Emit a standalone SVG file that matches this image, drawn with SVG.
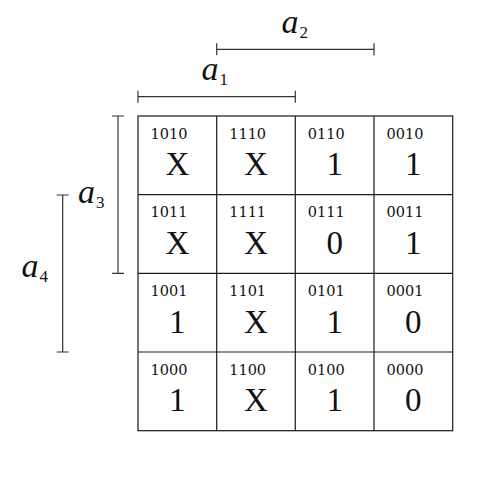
<svg xmlns="http://www.w3.org/2000/svg" width="498" height="486" viewBox="0 0 498 486">
<style>
.grid{stroke:#1a1a1a;stroke-width:1.2;fill:none}
.br{stroke:#333;stroke-width:1.2;fill:none}
.lbl{font-family:"DejaVu Serif",serif;font-size:14.5px;fill:#111}
.val{font-family:"Liberation Serif",serif;font-size:33px;fill:#111;text-anchor:middle}
.var{font-family:"Liberation Serif",serif;font-style:italic;font-size:34px;fill:#111}
.sub{font-style:normal;font-size:17px}
</style>
<rect width="498" height="486" fill="#fff"/>
<g id="connectors">
<path class="br" d="M138 96.7H295.3M138 90.7V102.7M295.3 90.7V102.7"/>
<path class="br" d="M216.7 49.3H374M216.7 43.3V55.3M374 43.3V55.3"/>
<path class="br" d="M118 116V273.3M112 116H124M112 273.3H124"/>
<path class="br" d="M62.7 195V352M56.7 195H68.7M56.7 352H68.7"/>
</g>
<g id="labels">
<text class="var" x="201.5" y="80">a<tspan class="sub" dx="1" dy="5">1</tspan></text>
<text class="var" x="281.5" y="33.3">a<tspan class="sub" dx="1" dy="5">2</tspan></text>
<text class="var" x="78" y="203">a<tspan class="sub" dx="1" dy="5">3</tspan></text>
<text class="var" x="21.5" y="277">a<tspan class="sub" dx="1" dy="5">4</tspan></text>
</g>
<g id="grid">
<rect class="grid" x="138" y="116" width="314.7" height="314.7"/>
<path class="grid" d="M216.7 116V430.7M295.3 116V430.7M374 116V430.7M138 194.7H452.7M138 273.3H452.7M138 352H452.7"/>
</g>
<g id="cell-1010"><text class="lbl" x="150.5" y="138.5">1010</text><text class="val" x="177.3" y="175.3">X</text></g>
<g id="cell-1110"><text class="lbl" x="229.2" y="138.5">1110</text><text class="val" x="256" y="175.3">X</text></g>
<g id="cell-0110"><text class="lbl" x="307.8" y="138.5">0110</text><text class="val" x="334.7" y="175.3">1</text></g>
<g id="cell-0010"><text class="lbl" x="386.5" y="138.5">0010</text><text class="val" x="413.3" y="175.3">1</text></g>
<g id="cell-1011"><text class="lbl" x="150.5" y="217.2">1011</text><text class="val" x="177.3" y="254">X</text></g>
<g id="cell-1111"><text class="lbl" x="229.2" y="217.2">1111</text><text class="val" x="256" y="254">X</text></g>
<g id="cell-0111"><text class="lbl" x="307.8" y="217.2">0111</text><text class="val" x="334.7" y="254">0</text></g>
<g id="cell-0011"><text class="lbl" x="386.5" y="217.2">0011</text><text class="val" x="413.3" y="254">1</text></g>
<g id="cell-1001"><text class="lbl" x="150.5" y="295.8">1001</text><text class="val" x="177.3" y="332.7">1</text></g>
<g id="cell-1101"><text class="lbl" x="229.2" y="295.8">1101</text><text class="val" x="256" y="332.7">X</text></g>
<g id="cell-0101"><text class="lbl" x="307.8" y="295.8">0101</text><text class="val" x="334.7" y="332.7">1</text></g>
<g id="cell-0001"><text class="lbl" x="386.5" y="295.8">0001</text><text class="val" x="413.3" y="332.7">0</text></g>
<g id="cell-1000"><text class="lbl" x="150.5" y="374.5">1000</text><text class="val" x="177.3" y="411.3">1</text></g>
<g id="cell-1100"><text class="lbl" x="229.2" y="374.5">1100</text><text class="val" x="256" y="411.3">X</text></g>
<g id="cell-0100"><text class="lbl" x="307.8" y="374.5">0100</text><text class="val" x="334.7" y="411.3">1</text></g>
<g id="cell-0000"><text class="lbl" x="386.5" y="374.5">0000</text><text class="val" x="413.3" y="411.3">0</text></g>
</svg>
